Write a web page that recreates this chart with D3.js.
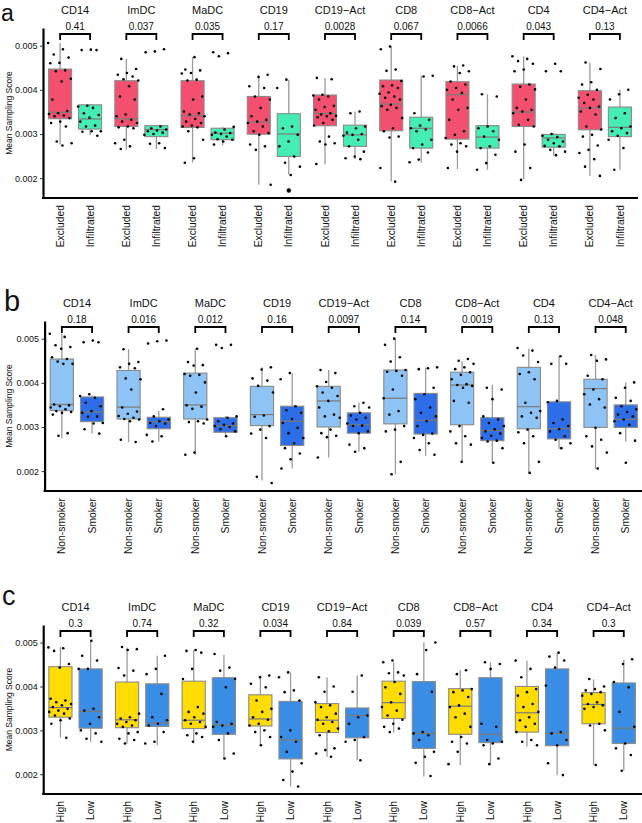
<!DOCTYPE html>
<html><head><meta charset="utf-8">
<script src="https://cdn.jsdelivr.net/npm/d3@7"></script>
<style>
body{margin:0;background:#fff}
svg text{font-family:"Liberation Sans",Arial,Helvetica,sans-serif;fill:#111}
</style>
</head><body>
<svg id="chart" width="642" height="823"></svg>
<script>
// ---------------- DATA ----------------
const cellTypes = ["CD14","ImDC","MaDC","CD19","CD19\u2212Act","CD8","CD8\u2212Act","CD4","CD4\u2212Act"];
const yTicks = [0.002, 0.003, 0.004, 0.005];

const groupsA = ["Excluded","Infiltrated"];
const pValuesA = ["0.41","0.037","0.035","0.17","0.0028","0.067","0.0066","0.043","0.13"];
const groupsB = ["Non-smoker","Smoker"];
const pValuesB = ["0.18","0.016","0.012","0.16","0.0097","0.14","0.0019","0.13","0.048"];
const groupsC = ["High","Low"];
const pValuesC = ["0.3","0.74","0.32","0.034","0.84","0.039","0.57","0.34","0.3"];

// box statistics per cell type: [lower whisker, Q1, median, Q3, upper whisker]
const boxExcluded = [
  [0.00276,0.003345,0.00349,0.00447,0.00506],[0.00264,0.00317,0.003345,0.004206,0.0047],
  [0.002354,0.003147,0.003413,0.004206,0.00474],[0.001848,0.002995,0.00327,0.00385,0.00434],
  [0.002317,0.003186,0.003465,0.003882,0.004267],[0.001923,0.003073,0.003678,0.004222,0.004985],
  [0.002204,0.002884,0.003889,0.004184,0.004546],[0.001977,0.00317,0.003497,0.004131,0.004757],
  [0.002052,0.003095,0.003587,0.00398,0.004621]];
const boxInfiltrated = [
  [0.00297,0.00311,0.00334,0.00366,0.00368],[0.00266,0.00294,0.0031,0.00319,0.0032],
  [0.00274,0.00287,0.00302,0.00313,0.00316],[0.00208,0.00249,0.003,0.00346,0.00423],
  [0.00243,0.00272,0.00298,0.0032,0.00351],[0.00235,0.00268,0.00313,0.00338,0.00432],
  [0.00219,0.00268,0.00293,0.00319,0.0039],[0.00251,0.0027,0.00291,0.00299,0.00302],
  [0.00219,0.00294,0.00315,0.00361,0.004]];
const boxNonSmoker = [
  [0.00275,0.00337,0.00351,0.00454,0.00511],[0.00266,0.00318,0.00345,0.00428,0.00476],
  [0.00237,0.00318,0.0035,0.00422,0.00477],[0.00179,0.00303,0.00328,0.00392,0.00435],
  [0.00231,0.003,0.00359,0.00392,0.00429],[0.00193,0.00307,0.00365,0.00429,0.005],
  [0.00221,0.00305,0.00395,0.00424,0.00449],[0.00196,0.00296,0.00346,0.00435,0.00477],
  [0.00205,0.00299,0.00387,0.00408,0.00463]];
const boxSmoker = [
  [0.00285,0.00312,0.00334,0.00368,0.00372],[0.00267,0.00296,0.00312,0.00322,0.00337],
  [0.00279,0.00288,0.00303,0.00321,0.00325],[0.00206,0.00258,0.00313,0.00347,0.00422],
  [0.00244,0.00286,0.00305,0.00332,0.00355],[0.00235,0.00284,0.00315,0.00376,0.00435],
  [0.00219,0.00269,0.00292,0.00321,0.00395],[0.0025,0.00273,0.00296,0.00357,0.0046],
  [0.00267,0.00299,0.00317,0.0035,0.00401]];
const boxHigh = [
  [0.00283,0.0033,0.00352,0.00445,0.0049],[0.0027,0.00306,0.00324,0.0041,0.00489],
  [0.00274,0.00304,0.00323,0.00412,0.00483],[0.00266,0.0031,0.00326,0.00381,0.00425],
  [0.0024,0.00295,0.00323,0.00361,0.00421],[0.00295,0.00327,0.00363,0.00412,0.00455],
  [0.00221,0.00291,0.00355,0.00395,0.00437],[0.00263,0.00296,0.0034,0.004,0.00459],
  [0.00221,0.00315,0.00359,0.00386,0.00416]];
const boxLow = [
  [0.00274,0.00305,0.00343,0.0044,0.00504],[0.00266,0.00309,0.00317,0.00406,0.0047],
  [0.00236,0.00291,0.00312,0.0042,0.00472],[0.00172,0.00235,0.00278,0.00366,0.00432],
  [0.00232,0.00283,0.00334,0.00351,0.00425],[0.00195,0.00259,0.00293,0.00411,0.005],
  [0.00223,0.00272,0.00291,0.0042,0.00455],[0.00198,0.00265,0.00293,0.0044,0.00476],
  [0.00208,0.0027,0.00305,0.00408,0.00461]];

// individual samples per cell type
const ptsExcluded = [
  [0.00506,0.00492,0.0048,0.00473,0.00461,0.0046,0.00444,0.00442,0.00425,0.00419,0.00378,0.00352,0.00347,0.00345,0.00342,0.0034,0.00336,0.00328,0.00325,0.00317,0.00283,0.00279,0.00274],
  [0.0047,0.00447,0.00438,0.00434,0.0043,0.00424,0.00421,0.00408,0.00385,0.00378,0.00344,0.0034,0.00332,0.00328,0.00325,0.00317,0.00315,0.00313,0.00287,0.00279,0.00272,0.00266],
  [0.00474,0.00446,0.00444,0.00438,0.00437,0.00423,0.00421,0.00385,0.00378,0.00351,0.00347,0.00344,0.0034,0.00334,0.00328,0.00325,0.00319,0.00317,0.00315,0.00306,0.00287,0.00245,0.00235],
  [0.00434,0.00429,0.00408,0.00404,0.00385,0.00378,0.00359,0.0034,0.00332,0.00328,0.00325,0.00317,0.00306,0.00302,0.00298,0.00276,0.00272,0.00264,0.00185],
  [0.00427,0.00424,0.00389,0.00387,0.00385,0.00378,0.00364,0.00361,0.00355,0.00347,0.00344,0.00341,0.0034,0.00338,0.00332,0.00325,0.00319,0.00294,0.00283,0.00279,0.00276,0.00232],
  [0.00498,0.00492,0.00446,0.00443,0.0042,0.0041,0.00408,0.00404,0.00394,0.00391,0.00385,0.00382,0.00378,0.00366,0.00363,0.00359,0.00355,0.00336,0.00313,0.00306,0.00294,0.00292,0.00223,0.00192],
  [0.00455,0.00453,0.00442,0.00438,0.00419,0.00412,0.00404,0.004,0.00393,0.00378,0.00359,0.00355,0.00332,0.00306,0.00298,0.00291,0.00279,0.00276,0.00272,0.0026,0.00223],
  [0.00476,0.0047,0.00465,0.00459,0.00446,0.00442,0.00412,0.00407,0.00401,0.00378,0.00359,0.00355,0.00351,0.00347,0.00332,0.00321,0.00317,0.00276,0.0026,0.00223,0.00196],
  [0.00462,0.00447,0.00417,0.00412,0.004,0.00389,0.00382,0.00378,0.0037,0.00362,0.00359,0.00351,0.00344,0.00317,0.0031,0.00298,0.00294,0.00274,0.00264,0.00257,0.00243,0.00226,0.00205]];
const ptsInfiltrated = [
  [0.00491,0.0049,0.0049,0.00364,0.00362,0.00359,0.00347,0.00343,0.00337,0.00328,0.00319,0.00317,0.00306,0.00306,0.00305,0.00296],
  [0.00492,0.00487,0.00485,0.00317,0.00313,0.0031,0.00308,0.00306,0.00303,0.003,0.00298,0.00279,0.00278,0.00268],
  [0.00485,0.00483,0.00476,0.00316,0.0031,0.00303,0.00302,0.003,0.00298,0.00294,0.00288,0.00287,0.00283,0.00276],
  [0.00423,0.00404,0.00317,0.00313,0.00298,0.00283,0.00272,0.00249,0.00235,0.00226,0.00207],
  [0.00351,0.00347,0.00317,0.00313,0.00303,0.003,0.00298,0.00296,0.00287,0.00272,0.0026,0.00249,0.00245,0.00243],
  [0.00432,0.0043,0.00347,0.00332,0.00319,0.00313,0.0031,0.00306,0.00287,0.00276,0.00268,0.00258,0.00242,0.00236],
  [0.0039,0.00385,0.00317,0.00313,0.00306,0.00294,0.00287,0.00272,0.00268,0.00253,0.00234,0.00219],
  [0.00459,0.00442,0.00442,0.003,0.00296,0.00293,0.00287,0.00283,0.00279,0.00273,0.00272,0.00264,0.0026,0.00252],
  [0.004,0.0039,0.00378,0.00347,0.00336,0.00317,0.00313,0.00306,0.00302,0.00296,0.00287,0.00268,0.00219]];
const outliersInfiltrated = [[],[],[],[0.00172],[],[],[],[],[]];
const ptsNonSmoker = [
  [0.00511,0.00504,0.00485,0.00481,0.00477,0.00458,0.00454,0.00448,0.00443,0.00443,0.00351,0.00349,0.00347,0.00344,0.0034,0.00336,0.00334,0.00332,0.00328,0.00286,0.0028],
  [0.00476,0.00447,0.00443,0.00435,0.00433,0.0041,0.00408,0.00385,0.00344,0.00335,0.0033,0.00325,0.00321,0.00318,0.00317,0.00313,0.00271,0.00266],
  [0.00477,0.00447,0.0044,0.00439,0.0042,0.00418,0.00416,0.00401,0.00378,0.00349,0.00346,0.00341,0.00317,0.00313,0.00311,0.00308,0.00242,0.00237],
  [0.00435,0.0043,0.0041,0.00405,0.00393,0.00378,0.00326,0.00323,0.00302,0.00294,0.00285,0.00275,0.00187,0.00173],
  [0.00429,0.00422,0.00402,0.00392,0.00389,0.00378,0.0037,0.00359,0.00344,0.00328,0.00324,0.00321,0.00294,0.00286,0.0028,0.00277,0.00231],
  [0.005,0.00486,0.00458,0.00448,0.00429,0.00427,0.00425,0.00416,0.00385,0.00365,0.00336,0.00328,0.00302,0.00294,0.0029,0.00221,0.00193],
  [0.00454,0.0045,0.00443,0.00435,0.00431,0.00424,0.00418,0.00408,0.00397,0.00395,0.00393,0.00389,0.00359,0.00355,0.00302,0.0029,0.00279,0.00263,0.0026,0.00221],
  [0.00479,0.00473,0.00462,0.00447,0.00424,0.0042,0.00408,0.00355,0.00336,0.00332,0.00324,0.00321,0.00294,0.00288,0.00279,0.00263,0.00221,0.00196],
  [0.00463,0.00453,0.0045,0.00416,0.00408,0.00385,0.00374,0.00363,0.00351,0.00344,0.00298,0.00279,0.00271,0.00256,0.00242,0.00206]];
const ptsSmoker = [
  [0.00496,0.00492,0.00492,0.00374,0.0037,0.00366,0.00355,0.00347,0.00336,0.00332,0.00324,0.00323,0.00309,0.00308,0.00295,0.00285],
  [0.00496,0.00494,0.00489,0.0034,0.00324,0.00317,0.00313,0.00309,0.00308,0.00302,0.00282,0.00279,0.00267],
  [0.00486,0.00486,0.00479,0.00324,0.00321,0.00313,0.00308,0.00305,0.00302,0.003,0.00295,0.0029,0.00279],
  [0.00422,0.00408,0.00347,0.00338,0.00332,0.00318,0.00309,0.00298,0.00286,0.00275,0.00263,0.00252,0.0024,0.00227,0.00206],
  [0.00355,0.00347,0.00344,0.00332,0.00326,0.00321,0.00317,0.00308,0.00303,0.00302,0.0029,0.00286,0.0026,0.00252,0.00244],
  [0.00435,0.00433,0.00431,0.00389,0.00374,0.00363,0.00344,0.00332,0.00324,0.00313,0.00302,0.00285,0.00282,0.00275,0.00263,0.00248,0.00237],
  [0.00389,0.00385,0.00363,0.00324,0.00317,0.00309,0.00302,0.00295,0.0029,0.00285,0.0028,0.00275,0.00269,0.00267,0.00252,0.00219],
  [0.0046,0.00443,0.00443,0.00359,0.00356,0.00317,0.00309,0.00302,0.00295,0.0029,0.00279,0.00271,0.00263,0.00252],
  [0.00401,0.00389,0.00366,0.00359,0.00347,0.0034,0.00334,0.00328,0.00324,0.00317,0.00313,0.00305,0.00286,0.00269,0.00219]];
const ptsHigh = [
  [0.00489,0.00487,0.00481,0.00451,0.00443,0.00372,0.00368,0.00364,0.0036,0.00357,0.00353,0.00349,0.00345,0.00342,0.00338,0.00334,0.00327,0.00323,0.00315,0.00283],
  [0.0049,0.00485,0.00483,0.00442,0.00436,0.00425,0.00338,0.0033,0.00327,0.00323,0.00319,0.00315,0.00311,0.00308,0.00296,0.00293,0.00281,0.00278,0.0027],
  [0.00483,0.00481,0.00477,0.0044,0.00417,0.00353,0.00342,0.00338,0.0033,0.00323,0.00319,0.00315,0.00308,0.00293,0.00289,0.00285,0.00274],
  [0.00425,0.00421,0.00406,0.00398,0.00368,0.00349,0.00342,0.0033,0.00324,0.00315,0.00311,0.003,0.00296,0.00285,0.00266],
  [0.00421,0.004,0.00388,0.00364,0.00357,0.00353,0.00338,0.0033,0.00324,0.00319,0.00315,0.00304,0.00298,0.00289,0.00259,0.00255,0.00247,0.0024],
  [0.00459,0.00455,0.00432,0.0043,0.00425,0.0041,0.00398,0.00383,0.00364,0.00353,0.00345,0.00334,0.00324,0.00315,0.00308,0.00304,0.00296],
  [0.00437,0.00428,0.00394,0.00391,0.00387,0.00376,0.00357,0.00353,0.00338,0.0033,0.00308,0.00285,0.00274,0.0027,0.00251,0.00223],
  [0.00459,0.0044,0.00421,0.00394,0.00387,0.00379,0.0036,0.00353,0.00342,0.0033,0.00323,0.00315,0.00308,0.00296,0.00278,0.00274,0.00266],
  [0.00417,0.004,0.00394,0.00391,0.00387,0.00383,0.00379,0.00364,0.0036,0.00357,0.00353,0.00349,0.00315,0.00311,0.003,0.00221]];
const ptsLow = [
  [0.00504,0.0047,0.00459,0.0044,0.0044,0.00349,0.00345,0.0033,0.00315,0.003,0.00293,0.00281,0.00274],
  [0.0047,0.0044,0.00428,0.00383,0.0033,0.00323,0.00315,0.00311,0.00296,0.00274,0.0027],
  [0.00474,0.00443,0.00436,0.00417,0.00398,0.00319,0.00315,0.00311,0.00308,0.00293,0.00278,0.00247,0.00236],
  [0.00432,0.00421,0.00391,0.00387,0.00368,0.003,0.00285,0.00274,0.00251,0.00225,0.00206,0.00187,0.00172],
  [0.00425,0.00388,0.00334,0.0033,0.00315,0.00285,0.00278,0.00274,0.00232],
  [0.005,0.00483,0.00428,0.00388,0.00296,0.00293,0.00289,0.00278,0.00251,0.0024,0.00226,0.00196],
  [0.00455,0.00451,0.0044,0.00315,0.00308,0.00278,0.00274,0.0027,0.00266,0.00236,0.00223],
  [0.00477,0.00468,0.00459,0.00443,0.00402,0.00296,0.00293,0.00278,0.00266,0.00225,0.00198],
  [0.00462,0.00451,0.0041,0.00398,0.00342,0.00308,0.0027,0.00259,0.00244,0.00208]];

// ---------------- LAYOUT / STYLE ----------------
const panels = [
  {letter:"a", lx:1, ly:21, lsize:23, top:28, bottom:198, x0:42, x1:638,
   groups:groupsA, pvals:pValuesA, boxes:[boxExcluded, boxInfiltrated],
   pts:[ptsExcluded, ptsInfiltrated], outliers:[null, outliersInfiltrated],
   colors:["#F2506E","#44EDB3"]},
  {letter:"b", lx:4, ly:311, lsize:29, top:321, bottom:491, x0:43.6, x1:644,
   groups:groupsB, pvals:pValuesB, boxes:[boxNonSmoker, boxSmoker],
   pts:[ptsNonSmoker, ptsSmoker], outliers:[null, null],
   colors:["#8DC3F5","#2D6EE8"]},
  {letter:"c", lx:2, ly:605, lsize:27, top:625, bottom:794, x0:42.2, x1:642,
   groups:groupsC, pvals:pValuesC, boxes:[boxHigh, boxLow],
   pts:[ptsHigh, ptsLow], outliers:[null, null],
   colors:["#FFDC00","#3A8DE4"]}
];

const svg = d3.select("#chart");
svg.append("rect").attr("width",642).attr("height",823).attr("fill","#fff");

function jitter(k, i, j){
  const f = (k*0.618034 + i*0.29 + j*0.53) % 1;
  return (f - 0.5) * 24;
}

panels.forEach(cfg => {
  const g = svg.append("g");
  const y = d3.scaleLinear().domain([0.00155, 0.0054]).range([cfg.bottom, cfg.top]);
  const fx = d3.scaleBand().domain(cellTypes).range([cfg.x0, cfg.x1]);
  const gx = d3.scaleBand().domain(cfg.groups).range([0, fx.bandwidth()])
               .paddingInner(0.233).paddingOuter(0.22);
  const bw = gx.bandwidth();
  const axisX = cfg.x0 + 1;

  // panel letter
  g.append("text").attr("x", cfg.lx).attr("y", cfg.ly).attr("font-size", cfg.lsize)
    .text(cfg.letter);

  // y axis
  const yAxis = d3.axisLeft(y).tickValues(yTicks).tickFormat(d3.format(".3f"))
    .tickSize(3).tickSizeOuter(0).tickPadding(2.5);
  const ya = g.append("g").attr("transform", `translate(${axisX},0)`).call(yAxis);
  ya.select(".domain").attr("stroke","#000").attr("stroke-width",2.2);
  ya.selectAll(".tick line").attr("stroke","#333").attr("stroke-width",1);
  ya.selectAll(".tick text").attr("font-size",9).attr("fill","#222")
    .style("font-family","'Liberation Sans',Arial,sans-serif");

  // y title
  g.append("text")
    .attr("transform", `translate(9,${(cfg.top+cfg.bottom)/2}) rotate(-90)`)
    .attr("text-anchor","middle").attr("dy","0.35em").attr("font-size",8.5)
    .text("Mean Sampling Score");

  // x axis line
  g.append("line").attr("x1", axisX-1).attr("x2", cfg.x1)
    .attr("y1", cfg.bottom).attr("y2", cfg.bottom)
    .attr("stroke","#000").attr("stroke-width",2.2);

  cellTypes.forEach((ct, i) => {
    const fc = fx(ct) + fx.bandwidth()/2;
    const cx = cfg.groups.map(gr => fx(ct) + gx(gr) + bw/2);

    g.append("text").attr("x", fc).attr("y", cfg.top - 14)
      .attr("text-anchor","middle").attr("font-size",11).text(ct);
    g.append("text").attr("x", fc).attr("y", cfg.top + 2)
      .attr("text-anchor","middle").attr("font-size",10).text(cfg.pvals[i]);
    g.append("path")
      .attr("d", `M${cx[0]},${cfg.top+12}V${cfg.top+6}H${cx[1]}V${cfg.top+12}`)
      .attr("fill","none").attr("stroke","#000").attr("stroke-width",1.8);

    cfg.groups.forEach((gr, j) => {
      const s = cfg.boxes[j][i];
      const x = cx[j];
      g.append("line").attr("x1",x).attr("x2",x).attr("y1",y(s[0])).attr("y2",y(s[1]))
        .attr("stroke","#9a9a9a").attr("stroke-width",1.3);
      g.append("line").attr("x1",x).attr("x2",x).attr("y1",y(s[3])).attr("y2",y(s[4]))
        .attr("stroke","#9a9a9a").attr("stroke-width",1.3);
      g.append("rect").attr("x", x - bw/2).attr("width", bw)
        .attr("y", y(s[3])).attr("height", y(s[1]) - y(s[3]))
        .attr("fill", cfg.colors[j]).attr("stroke","#8a8a8a").attr("stroke-width",1.1);
      g.append("line").attr("x1", x - bw/2).attr("x2", x + bw/2)
        .attr("y1", y(s[2])).attr("y2", y(s[2]))
        .attr("stroke","#7a7a7a").attr("stroke-width",1.2);
      g.append("text")
        .attr("transform", `translate(${x},${cfg.bottom + 7}) rotate(-90)`)
        .attr("text-anchor","end").attr("dy","0.35em").attr("font-size",10.3)
        .text(gr);
    });
  });

  cellTypes.forEach((ct, i) => {
    cfg.groups.forEach((gr, j) => {
      const x = fx(ct) + gx(gr) + bw/2;
      g.selectAll(null).data(cfg.pts[j][i]).enter().append("circle")
        .attr("cx", (d,k) => x + jitter(k, i, j))
        .attr("cy", d => y(d)).attr("r", 1.3).attr("fill","#000");
      if (cfg.outliers[j]) {
        g.selectAll(null).data(cfg.outliers[j][i]).enter().append("circle")
          .attr("cx", x).attr("cy", d => y(d)).attr("r", 2.2).attr("fill","#000");
      }
    });
  });
});
</script>
</body></html>
